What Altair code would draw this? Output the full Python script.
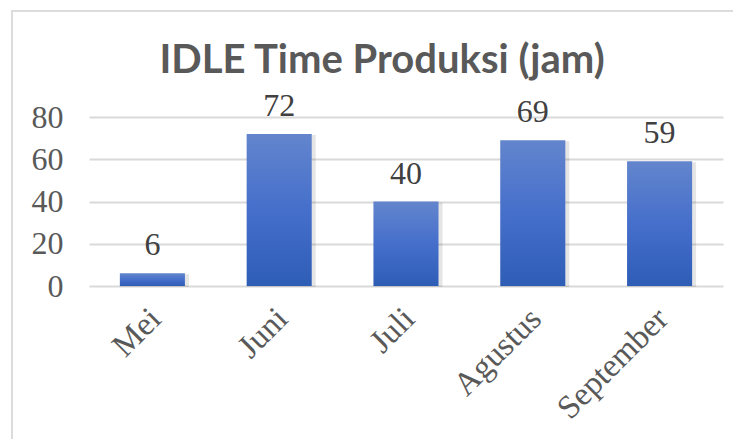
import altair as alt
import pandas as pd

months = ["Mei", "Juni", "Juli", "Agustus", "September"]
idle_hours = [6, 72, 40, 69, 59]
y_ticks = [0, 20, 40, 60, 80]

df = pd.DataFrame({"bulan": months, "jam": idle_hours})

TEXT_GRAY = "#595959"
SERIF = "Liberation Serif"

x_enc = alt.X("bulan:N", sort=months, title=None,
              scale=alt.Scale(paddingInner=0.487, paddingOuter=0.2435),
              axis=alt.Axis(labelAngle=-45, labelFont=SERIF, labelFontSize=33,
                            labelColor=TEXT_GRAY, labelPadding=16, labelOffset=-8,
                            ticks=False, domain=False, grid=False))
y_enc = alt.Y("jam:Q", title=None,
              scale=alt.Scale(domain=[0, 80], nice=False),
              axis=alt.Axis(values=y_ticks, labelFont=SERIF, labelFontSize=32,
                            labelColor=TEXT_GRAY, labelPadding=26, ticks=False,
                            domain=False, grid=True, gridColor="#d9d9d9",
                            gridWidth=2))

base = alt.Chart(df)

border = base.mark_rect(fill=None, stroke="#dcdcdc", strokeWidth=2, clip=False).encode(
    x=alt.value(-77), x2=alt.value(660), y=alt.value(-106), y2=alt.value(400)
).transform_filter(alt.datum.bulan == "Mei")

shadow = base.mark_bar(color="#000000", opacity=0.10, xOffset=2, yOffset=1,
                       size=69).encode(x=x_enc, y=y_enc)

gradient = alt.Gradient(
    gradient="linear",
    stops=[alt.GradientStop(offset=0, color="#6385CD"),
           alt.GradientStop(offset=0.5, color="#456FCB"),
           alt.GradientStop(offset=1, color="#2E5DB6")],
    x1=0, x2=0, y1=0, y2=1,
)
bars = base.mark_bar(color=gradient).encode(x=x_enc, y=y_enc)

labels = base.mark_text(font=SERIF, fontSize=32, color="#404040",
                        baseline="alphabetic", dy=-18).encode(
    x=alt.X("bulan:N", sort=months), y="jam:Q", text="jam:Q")

chart = alt.layer(border, shadow, bars, labels).properties(
    width=634, height=169,
    title=alt.TitleParams("IDLE Time Produksi (jam)", font="Lato", fontSize=40,
                          fontWeight="bold", color=TEXT_GRAY, anchor="middle",
                          frame="group", dx=-24, offset=0, baseline="alphabetic",
                          dy=103),
    autosize=alt.AutoSizeParams(type="none"),
    padding={"left": 81, "top": 109, "right": 10, "bottom": 153},
).configure_view(stroke=None)

chart.save("out.html", embed_options={"renderer": "svg", "actions": False})
